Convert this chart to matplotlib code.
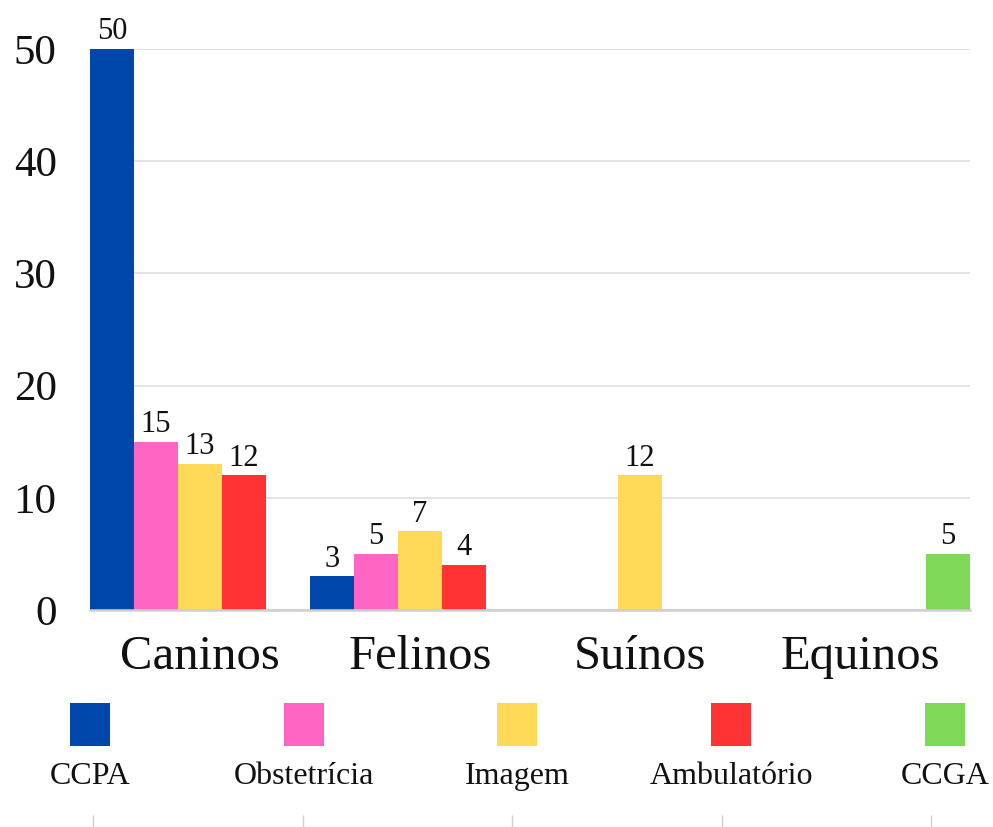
import matplotlib
matplotlib.use("Agg")
import matplotlib.pyplot as plt
import numpy as np

plt.rcParams["font.family"] = ["Liberation Serif", "DejaVu Serif"]

categories = ["Caninos", "Felinos", "Suínos", "Equinos"]
series = ["CCPA", "Obstetrícia", "Imagem", "Ambulatório", "CCGA"]
values = {
    "CCPA":        [50, 3, 0, 0],
    "Obstetrícia": [15, 5, 0, 0],
    "Imagem":      [13, 7, 12, 0],
    "Ambulatório": [12, 4, 0, 0],
    "CCGA":        [0, 0, 0, 5],
}
colors = ["#0047AB", "#FF66C4", "#FFDA58", "#FF3333", "#7ED957"]
yticks = [0, 10, 20, 30, 40, 50]

W, H = 993, 827
fig = plt.figure(figsize=(W / 100, H / 100), dpi=100)

# --- main grouped bars ---
ax = fig.add_axes([90 / W, 1 - 610 / H, 880 / W, 561 / H])
bw = 1.0 / len(series)
x = np.arange(len(categories))
for j, (name, col) in enumerate(zip(series, colors)):
    vals = values[name]
    bars = ax.bar(x + j * bw, vals, width=bw, align="edge", color=col,
                  zorder=3, linewidth=0)
    labels = [str(v) if v > 0 else "" for v in vals]
    ax.bar_label(bars, labels=labels, padding=2, fontsize=22, color="#111111")

ax.set_xlim(0, len(categories))
ax.set_ylim(0, 50)
ax.set_yticks(yticks)
ax.set_yticklabels([str(t) for t in yticks], fontsize=31, color="#111111")
ax.set_xticks(x + 0.5)
ax.set_xticklabels(categories, fontsize=35, color="#111111")
ax.tick_params(axis="y", length=0, pad=24)
ax.tick_params(axis="x", length=0, pad=18)
ax.grid(axis="y", color="#e3e3e3", lw=1.5, zorder=0)
for s in ["top", "right", "left"]:
    ax.spines[s].set_visible(False)
ax.spines["bottom"].set_color("#cfcfcf")
ax.spines["bottom"].set_linewidth(1.8)
ax.spines["bottom"].set_zorder(4)

# --- legend row: swatches with names underneath ---
lax = fig.add_axes([0, 1 - 746 / H, 1, 43 / H])
step = 213.75
lax.set_xlim(-90 / step, (W - 90) / step)
lax.set_ylim(0, 1)
lax.bar(np.arange(len(series)), 1, width=40 / step, color=colors)
for i, name in enumerate(series):
    lax.text(i, -0.72, name, ha="center", va="center", fontsize=23,
             color="#111111")
lax.axis("off")

# faint tick marks along the bottom edge
tax = fig.add_axes([93 / W, 0, 838 / W, 12 / H])
tax.set_xlim(0, 4)
tax.set_xticks(range(5))
tax.set_xticklabels([])
tax.set_yticks([])
tax.tick_params(axis="x", direction="in", length=9, width=1, color="#d0d0d0")
for s in tax.spines.values():
    s.set_visible(False)
tax.patch.set_alpha(0)

fig.savefig("out.png", dpi=100)
